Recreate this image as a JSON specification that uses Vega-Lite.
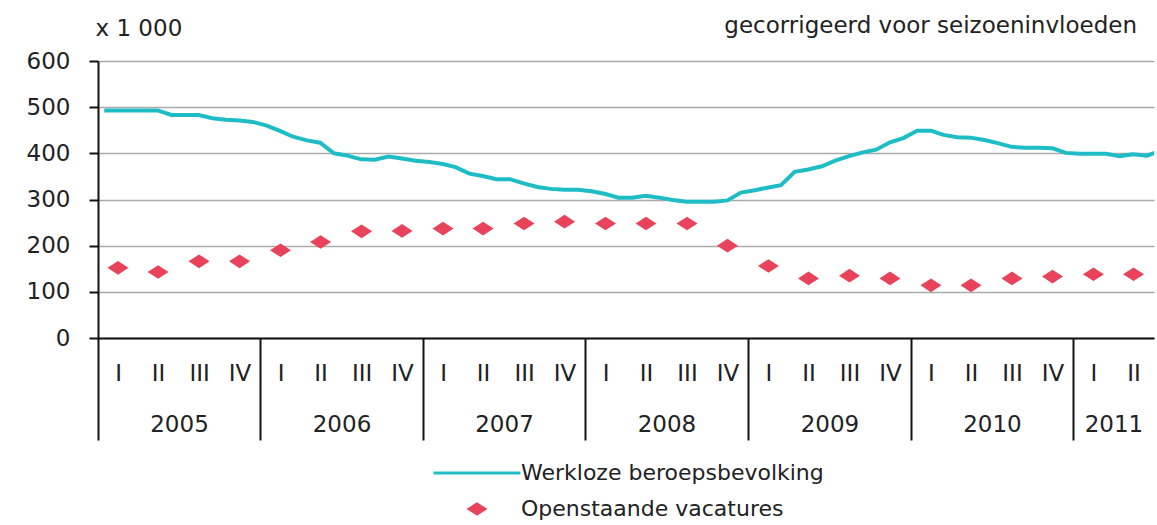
{
  "$schema": "https://vega.github.io/schema/vega-lite/v6.json",
  "width": 1056,
  "height": 277,
  "autosize": {"type": "none"},
  "padding": {"left": 98, "top": 61, "right": 3, "bottom": 187},
  "background": "white",
  "config": {
    "view": {"stroke": null},
    "font": "DejaVu Sans",
    "axis": {"labelFont": "DejaVu Sans", "labelFontSize": 23, "labelColor": "#222222", "titleFont": "DejaVu Sans"},
    "legend": {
      "title": null,
      "orient": "none",
      "legendX": 368,
      "legendY": 401,
      "direction": "vertical",
      "rowPadding": 14,
      "padding": 0,
      "symbolSize": 441,
      "labelFont": "DejaVu Sans",
      "labelFontSize": 22,
      "labelColor": "#222222",
      "labelOffset": 33,
      "labelLimit": 700,
      "symbolOpacity": 1
    }
  },
  "title": {
    "text": "gecorrigeerd voor seizoeninvloeden",
    "anchor": "end",
    "frame": "group",
    "font": "DejaVu Sans",
    "fontSize": 23,
    "fontWeight": "normal",
    "color": "#222222",
    "dx": -17,
    "dy": 21,
    "offset": 0
  },
  "datasets": {
    "werkloos": [
      {"date": "2005-01-15", "value": 493, "series": "Werkloze beroepsbevolking"},
      {"date": "2005-02-15", "value": 493, "series": "Werkloze beroepsbevolking"},
      {"date": "2005-03-15", "value": 493, "series": "Werkloze beroepsbevolking"},
      {"date": "2005-04-15", "value": 493, "series": "Werkloze beroepsbevolking"},
      {"date": "2005-05-15", "value": 493, "series": "Werkloze beroepsbevolking"},
      {"date": "2005-06-15", "value": 483, "series": "Werkloze beroepsbevolking"},
      {"date": "2005-07-15", "value": 483, "series": "Werkloze beroepsbevolking"},
      {"date": "2005-08-15", "value": 483, "series": "Werkloze beroepsbevolking"},
      {"date": "2005-09-15", "value": 476, "series": "Werkloze beroepsbevolking"},
      {"date": "2005-10-15", "value": 473, "series": "Werkloze beroepsbevolking"},
      {"date": "2005-11-15", "value": 471, "series": "Werkloze beroepsbevolking"},
      {"date": "2005-12-15", "value": 468, "series": "Werkloze beroepsbevolking"},
      {"date": "2006-01-15", "value": 460, "series": "Werkloze beroepsbevolking"},
      {"date": "2006-02-15", "value": 448, "series": "Werkloze beroepsbevolking"},
      {"date": "2006-03-15", "value": 436, "series": "Werkloze beroepsbevolking"},
      {"date": "2006-04-15", "value": 428, "series": "Werkloze beroepsbevolking"},
      {"date": "2006-05-15", "value": 423, "series": "Werkloze beroepsbevolking"},
      {"date": "2006-06-15", "value": 400, "series": "Werkloze beroepsbevolking"},
      {"date": "2006-07-15", "value": 395, "series": "Werkloze beroepsbevolking"},
      {"date": "2006-08-15", "value": 387, "series": "Werkloze beroepsbevolking"},
      {"date": "2006-09-15", "value": 386, "series": "Werkloze beroepsbevolking"},
      {"date": "2006-10-15", "value": 393, "series": "Werkloze beroepsbevolking"},
      {"date": "2006-11-15", "value": 389, "series": "Werkloze beroepsbevolking"},
      {"date": "2006-12-15", "value": 384, "series": "Werkloze beroepsbevolking"},
      {"date": "2007-01-15", "value": 381, "series": "Werkloze beroepsbevolking"},
      {"date": "2007-02-15", "value": 377, "series": "Werkloze beroepsbevolking"},
      {"date": "2007-03-15", "value": 370, "series": "Werkloze beroepsbevolking"},
      {"date": "2007-04-15", "value": 356, "series": "Werkloze beroepsbevolking"},
      {"date": "2007-05-15", "value": 351, "series": "Werkloze beroepsbevolking"},
      {"date": "2007-06-15", "value": 344, "series": "Werkloze beroepsbevolking"},
      {"date": "2007-07-15", "value": 344, "series": "Werkloze beroepsbevolking"},
      {"date": "2007-08-15", "value": 335, "series": "Werkloze beroepsbevolking"},
      {"date": "2007-09-15", "value": 327, "series": "Werkloze beroepsbevolking"},
      {"date": "2007-10-15", "value": 323, "series": "Werkloze beroepsbevolking"},
      {"date": "2007-11-15", "value": 321, "series": "Werkloze beroepsbevolking"},
      {"date": "2007-12-15", "value": 321, "series": "Werkloze beroepsbevolking"},
      {"date": "2008-01-15", "value": 318, "series": "Werkloze beroepsbevolking"},
      {"date": "2008-02-15", "value": 312, "series": "Werkloze beroepsbevolking"},
      {"date": "2008-03-15", "value": 304, "series": "Werkloze beroepsbevolking"},
      {"date": "2008-04-15", "value": 304, "series": "Werkloze beroepsbevolking"},
      {"date": "2008-05-15", "value": 308, "series": "Werkloze beroepsbevolking"},
      {"date": "2008-06-15", "value": 304, "series": "Werkloze beroepsbevolking"},
      {"date": "2008-07-15", "value": 299, "series": "Werkloze beroepsbevolking"},
      {"date": "2008-08-15", "value": 295, "series": "Werkloze beroepsbevolking"},
      {"date": "2008-09-15", "value": 295, "series": "Werkloze beroepsbevolking"},
      {"date": "2008-10-15", "value": 295, "series": "Werkloze beroepsbevolking"},
      {"date": "2008-11-15", "value": 298, "series": "Werkloze beroepsbevolking"},
      {"date": "2008-12-15", "value": 315, "series": "Werkloze beroepsbevolking"},
      {"date": "2009-01-15", "value": 320, "series": "Werkloze beroepsbevolking"},
      {"date": "2009-02-15", "value": 326, "series": "Werkloze beroepsbevolking"},
      {"date": "2009-03-15", "value": 331, "series": "Werkloze beroepsbevolking"},
      {"date": "2009-04-15", "value": 360, "series": "Werkloze beroepsbevolking"},
      {"date": "2009-05-15", "value": 365, "series": "Werkloze beroepsbevolking"},
      {"date": "2009-06-15", "value": 372, "series": "Werkloze beroepsbevolking"},
      {"date": "2009-07-15", "value": 384, "series": "Werkloze beroepsbevolking"},
      {"date": "2009-08-15", "value": 394, "series": "Werkloze beroepsbevolking"},
      {"date": "2009-09-15", "value": 402, "series": "Werkloze beroepsbevolking"},
      {"date": "2009-10-15", "value": 408, "series": "Werkloze beroepsbevolking"},
      {"date": "2009-11-15", "value": 424, "series": "Werkloze beroepsbevolking"},
      {"date": "2009-12-15", "value": 433, "series": "Werkloze beroepsbevolking"},
      {"date": "2010-01-15", "value": 449, "series": "Werkloze beroepsbevolking"},
      {"date": "2010-02-15", "value": 449, "series": "Werkloze beroepsbevolking"},
      {"date": "2010-03-15", "value": 440, "series": "Werkloze beroepsbevolking"},
      {"date": "2010-04-15", "value": 435, "series": "Werkloze beroepsbevolking"},
      {"date": "2010-05-15", "value": 434, "series": "Werkloze beroepsbevolking"},
      {"date": "2010-06-15", "value": 429, "series": "Werkloze beroepsbevolking"},
      {"date": "2010-07-15", "value": 422, "series": "Werkloze beroepsbevolking"},
      {"date": "2010-08-15", "value": 414, "series": "Werkloze beroepsbevolking"},
      {"date": "2010-09-15", "value": 412, "series": "Werkloze beroepsbevolking"},
      {"date": "2010-10-15", "value": 412, "series": "Werkloze beroepsbevolking"},
      {"date": "2010-11-15", "value": 411, "series": "Werkloze beroepsbevolking"},
      {"date": "2010-12-15", "value": 401, "series": "Werkloze beroepsbevolking"},
      {"date": "2011-01-15", "value": 399, "series": "Werkloze beroepsbevolking"},
      {"date": "2011-02-15", "value": 399, "series": "Werkloze beroepsbevolking"},
      {"date": "2011-03-15", "value": 399, "series": "Werkloze beroepsbevolking"},
      {"date": "2011-04-15", "value": 394, "series": "Werkloze beroepsbevolking"},
      {"date": "2011-05-15", "value": 398, "series": "Werkloze beroepsbevolking"},
      {"date": "2011-06-15", "value": 395, "series": "Werkloze beroepsbevolking"},
      {"date": "2011-07-15", "value": 405, "series": "Werkloze beroepsbevolking"}
    ],
    "vacatures": [
      {"date": "2005-02-15", "value": 152, "series": "Openstaande vacatures"},
      {"date": "2005-05-16", "value": 143, "series": "Openstaande vacatures"},
      {"date": "2005-08-16", "value": 166, "series": "Openstaande vacatures"},
      {"date": "2005-11-15", "value": 166, "series": "Openstaande vacatures"},
      {"date": "2006-02-15", "value": 190, "series": "Openstaande vacatures"},
      {"date": "2006-05-16", "value": 208, "series": "Openstaande vacatures"},
      {"date": "2006-08-16", "value": 231, "series": "Openstaande vacatures"},
      {"date": "2006-11-15", "value": 232, "series": "Openstaande vacatures"},
      {"date": "2007-02-15", "value": 237, "series": "Openstaande vacatures"},
      {"date": "2007-05-16", "value": 237, "series": "Openstaande vacatures"},
      {"date": "2007-08-16", "value": 248, "series": "Openstaande vacatures"},
      {"date": "2007-11-15", "value": 252, "series": "Openstaande vacatures"},
      {"date": "2008-02-15", "value": 248, "series": "Openstaande vacatures"},
      {"date": "2008-05-16", "value": 248, "series": "Openstaande vacatures"},
      {"date": "2008-08-16", "value": 248, "series": "Openstaande vacatures"},
      {"date": "2008-11-15", "value": 200, "series": "Openstaande vacatures"},
      {"date": "2009-02-15", "value": 156, "series": "Openstaande vacatures"},
      {"date": "2009-05-16", "value": 129, "series": "Openstaande vacatures"},
      {"date": "2009-08-16", "value": 135, "series": "Openstaande vacatures"},
      {"date": "2009-11-15", "value": 129, "series": "Openstaande vacatures"},
      {"date": "2010-02-15", "value": 114, "series": "Openstaande vacatures"},
      {"date": "2010-05-16", "value": 114, "series": "Openstaande vacatures"},
      {"date": "2010-08-16", "value": 129, "series": "Openstaande vacatures"},
      {"date": "2010-11-15", "value": 133, "series": "Openstaande vacatures"},
      {"date": "2011-02-15", "value": 138, "series": "Openstaande vacatures"},
      {"date": "2011-05-16", "value": 138, "series": "Openstaande vacatures"}
    ]
  },
  "resolve": {"axis": {"x": "independent"}},
  "layer": [
    {
      "data": {"name": "werkloos"},
      "mark": {"type": "line", "strokeWidth": 4, "clip": true},
      "encoding": {
        "x": {
          "field": "date",
          "type": "temporal",
          "scale": {"domain": [{"year": 2005, "month": 1, "date": 1, "utc": true}, {"year": 2011, "month": 7, "date": 1, "utc": true}]},
          "axis": {
            "orient": "bottom",
            "title": null,
            "values": [
              {"year": 2005, "month": 1, "date": 1, "utc": true},
              {"year": 2006, "month": 1, "date": 1, "utc": true},
              {"year": 2007, "month": 1, "date": 1, "utc": true},
              {"year": 2008, "month": 1, "date": 1, "utc": true},
              {"year": 2009, "month": 1, "date": 1, "utc": true},
              {"year": 2010, "month": 1, "date": 1, "utc": true},
              {"year": 2011, "month": 1, "date": 1, "utc": true}
            ],
            "labelExpr": "utcFormat(datum.value, '%Y')",
            "domain": false,
            "grid": false,
            "ticks": true,
            "tickSize": 102,
            "tickColor": "#111111",
            "tickWidth": 2,
            "labelPadding": -16,
            "labelBaseline": "middle",
            "labelAlign": "center",
            "labelFlush": false,
            "labelOverlap": false,
            "labelOffset": {"condition": {"test": "utcyear(datum.value) == 2011", "value": 40}, "value": 81}
          }
        },
        "y": {
          "field": "value",
          "type": "quantitative",
          "scale": {"domain": [0, 600]},
          "axis": {
            "values": [0, 100, 200, 300, 400, 500, 600],
            "title": "x 1 000",
            "titleAngle": 0,
            "titleX": -3,
            "titleY": -33,
            "titleAlign": "left",
            "titleBaseline": "middle",
            "titleFontSize": 23,
            "titleFontWeight": "normal",
            "titleColor": "#222222",
            "grid": true,
            "gridColor": "#aaaaaa",
            "gridWidth": 1.5,
            "domain": true,
            "domainColor": "#111111",
            "domainWidth": 2,
            "ticks": true,
            "tickSize": 9,
            "tickColor": "#111111",
            "tickWidth": 2,
            "labelPadding": 19
          }
        },
        "color": {
          "field": "series",
          "type": "nominal",
          "scale": {"domain": ["Werkloze beroepsbevolking", "Openstaande vacatures"], "range": ["#1ebdc6", "#e8435a"]}
        }
      }
    },
    {
      "data": {"name": "vacatures"},
      "mark": {"type": "point", "filled": true, "opacity": 1, "size": 441},
      "encoding": {
        "x": {
          "field": "date",
          "type": "temporal",
          "axis": {
            "orient": "bottom",
            "title": null,
            "values": [
              {"year": 2005, "month": 2, "date": 15, "utc": true}, {"year": 2005, "month": 5, "date": 16, "utc": true}, {"year": 2005, "month": 8, "date": 16, "utc": true}, {"year": 2005, "month": 11, "date": 15, "utc": true},
              {"year": 2006, "month": 2, "date": 15, "utc": true}, {"year": 2006, "month": 5, "date": 16, "utc": true}, {"year": 2006, "month": 8, "date": 16, "utc": true}, {"year": 2006, "month": 11, "date": 15, "utc": true},
              {"year": 2007, "month": 2, "date": 15, "utc": true}, {"year": 2007, "month": 5, "date": 16, "utc": true}, {"year": 2007, "month": 8, "date": 16, "utc": true}, {"year": 2007, "month": 11, "date": 15, "utc": true},
              {"year": 2008, "month": 2, "date": 15, "utc": true}, {"year": 2008, "month": 5, "date": 16, "utc": true}, {"year": 2008, "month": 8, "date": 16, "utc": true}, {"year": 2008, "month": 11, "date": 15, "utc": true},
              {"year": 2009, "month": 2, "date": 15, "utc": true}, {"year": 2009, "month": 5, "date": 16, "utc": true}, {"year": 2009, "month": 8, "date": 16, "utc": true}, {"year": 2009, "month": 11, "date": 15, "utc": true},
              {"year": 2010, "month": 2, "date": 15, "utc": true}, {"year": 2010, "month": 5, "date": 16, "utc": true}, {"year": 2010, "month": 8, "date": 16, "utc": true}, {"year": 2010, "month": 11, "date": 15, "utc": true},
              {"year": 2011, "month": 2, "date": 15, "utc": true}, {"year": 2011, "month": 5, "date": 16, "utc": true}
            ],
            "labelExpr": "['I','II','III','IV'][floor(utcmonth(datum.value) / 3)]",
            "domain": true,
            "domainColor": "#111111",
            "domainWidth": 2,
            "grid": false,
            "ticks": false,
            "tickSize": 0,
            "labelPadding": 35,
            "labelBaseline": "middle",
            "labelAlign": "center",
            "labelFlush": false,
            "labelOverlap": false
          }
        },
        "y": {"field": "value", "type": "quantitative"},
        "color": {
          "field": "series",
          "type": "nominal",
          "legend": {
            "encode": {
              "symbols": {
                "update": {
                  "stroke": {"scale": "color", "field": "value"},
                  "strokeWidth": {"signal": "datum.value === 'Openstaande vacatures' ? 0 : 3"}
                }
              }
            }
          }
        },
        "shape": {
          "field": "series",
          "type": "nominal",
          "scale": {"domain": ["Werkloze beroepsbevolking", "Openstaande vacatures"], "range": ["M-4.14,0H4.14", "M-1,0L0,-0.65L1,0L0,0.65Z"]}
        }
      }
    }
  ]
}
